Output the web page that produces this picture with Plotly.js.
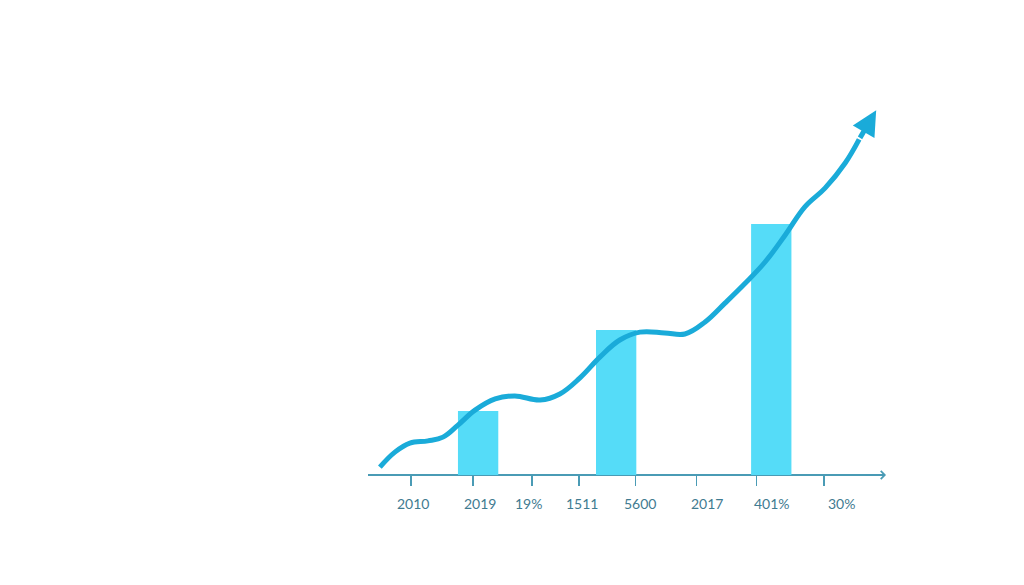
<!DOCTYPE html>
<html>
<head>
<meta charset="utf-8">
<script src="https://cdn.plot.ly/plotly-3.0.1.min.js"></script>
<style>html,body{margin:0;padding:0;background:#fff;}#chart{width:1024px;height:585px;}</style>
</head>
<body>
<div id="chart"></div>
<script>
// Bars
const barX = [21.3, 48.0, 78.0];
const barY = [17.1, 38.7, 66.9];
// Trend line
const lineX = [2.3, 5.2, 8.1, 11.6, 14.5, 17.4, 20.7, 24.6, 28.4, 33.3, 37.1, 41.0, 44.9, 48.7, 52.6, 57.4, 61.3, 65.2, 69.1, 73.0, 76.8, 80.7, 84.5, 88.4, 92.3, 95.0];
const lineY = [2.1, 6.1, 8.5, 9.1, 10.1, 13.3, 17.3, 20.3, 21.1, 20.0, 21.6, 25.9, 31.5, 36.0, 38.1, 37.9, 37.6, 40.8, 45.9, 51.2, 56.8, 64.0, 71.5, 76.5, 83.2, 89.5];
const arrowTip = [98.3, 97.3];
// Axis ticks and labels
const tickVals = [8.3, 20.3, 31.7, 40.8, 51.8, 63.6, 75.2, 88.2];
const labelX = [8.7, 21.7, 31.0, 41.4, 52.6, 65.6, 78.2, 91.5];
const labelText = ["2010", "2019", "19%", "1511", "5600", "2017", "401%", "30%"];

const lineColor = "#1AABD9";
const barColor = "#55DCF8";
const axisColor = "#4A9BB5";

const traces = [
  {type: "bar", x: barX, y: barY, width: 7.8, marker: {color: barColor}, hoverinfo: "skip"},
  {type: "scatter", mode: "lines", x: lineX, y: lineY, line: {color: lineColor, width: 5, shape: "spline", smoothing: 1.1}, hoverinfo: "skip"}
];

const annotations = labelX.map((x, i) => ({
  x: x, y: 0, xref: "x", yref: "y", yshift: -28, showarrow: false,
  text: labelText[i], font: {family: "Lato, 'Open Sans', sans-serif", size: 14, color: "#3F7B91"}
}));
annotations.push({
  x: arrowTip[0], y: arrowTip[1], xref: "x", yref: "y",
  ax: lineX[lineX.length - 1], ay: lineY[lineY.length - 1], axref: "x", ayref: "y",
  showarrow: true, arrowhead: 2, arrowsize: 1, arrowwidth: 5, arrowcolor: lineColor, text: ""
});
// x-axis arrow
annotations.push({
  x: 100.2, y: 0, xref: "x", yref: "y", ax: 96, ay: 0, axref: "x", ayref: "y",
  showarrow: true, arrowhead: 4, arrowsize: 1.2, arrowwidth: 1.3, arrowcolor: axisColor, text: ""
});

const layout = {
  width: 1024, height: 585,
  margin: {l: 368, r: 139, t: 100, b: 110},
  paper_bgcolor: "#ffffff", plot_bgcolor: "#ffffff",
  showlegend: false,
  xaxis: {
    range: [0, 100], showgrid: false, zeroline: false,
    showline: false, tickmode: "array", tickvals: tickVals, ticktext: tickVals.map(() => ""),
    ticks: "outside", ticklen: 10, tickwidth: 1.3, tickcolor: axisColor, showticklabels: false
  },
  yaxis: {
    range: [0, 100], showgrid: false, zeroline: true, zerolinecolor: axisColor, zerolinewidth: 1.5,
    showline: false, showticklabels: false, ticks: ""
  },
  annotations: annotations
};

Plotly.newPlot("chart", traces, layout, {displayModeBar: false, staticPlot: true});
</script>
</body>
</html>
